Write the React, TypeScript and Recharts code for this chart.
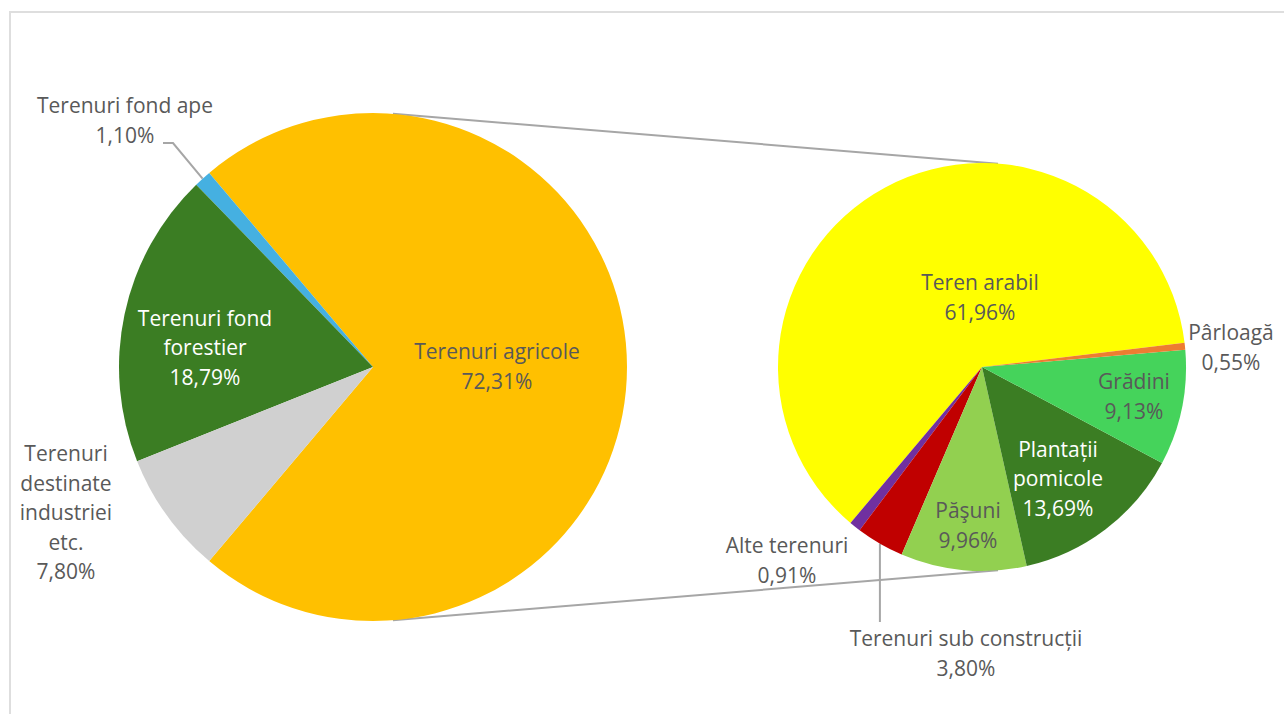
import { PieChart, Pie, Cell } from "recharts";

// main pie (left)
const MAIN_NAMES = ["Terenuri agricole", "Terenuri fond ape", "Terenuri fond forestier", "Terenuri destinate industriei etc."];
const MAIN_VALUES = [72.31, 1.1, 18.79, 7.8];
const MAIN_COLORS = ["#FFC000", "#45B0E1", "#3B7D23", "#D0D0D0"];

// breakdown of "Terenuri agricole" (right)
const SUB_NAMES = ["Teren arabil", "Alte terenuri", "Terenuri sub construcții", "Păşuni", "Plantații pomicole", "Grădini", "Pârloagă"];
const SUB_VALUES = [61.96, 0.91, 3.8, 9.96, 13.69, 9.13, 0.55];
const SUB_COLORS = ["#FFFF00", "#7030A0", "#C00000", "#92D050", "#3B7D23", "#45D35B", "#ED7D31"];

const W = 1284;
const H = 714;
const FONT = "'Open Sans', sans-serif";
const FS = 21;
const LH = 29.5;
const GREY_TXT = "#595959";
const LINE_COL = "#a6a6a6";

const MAIN = { cx: 373, cy: 367, r: 254, start: -130.158 };
const SUB = { cx: 982, cy: 367, r: 204, start: 6.8 };

// label text blocks, offset from pie centre
const LABELS: Record<string, { lines: string[]; dx: number; dy: number; fill: string }> = {
  "Terenuri agricole": { lines: ["Terenuri agricole", "72,31%"], dx: 124, dy: -1, fill: GREY_TXT },
  "Terenuri fond ape": { lines: ["Terenuri fond ape", "1,10%"], dx: -248, dy: -247, fill: GREY_TXT },
  "Terenuri fond forestier": { lines: ["Terenuri fond", "forestier", "18,79%"], dx: -168, dy: -20, fill: "#ffffff" },
  "Terenuri destinate industriei etc.": { lines: ["Terenuri", "destinate", "industriei", "etc.", "7,80%"], dx: -307, dy: 145, fill: GREY_TXT },
  "Teren arabil": { lines: ["Teren arabil", "61,96%"], dx: -2, dy: -70, fill: GREY_TXT },
  "Alte terenuri": { lines: ["Alte terenuri", "0,91%"], dx: -195, dy: 193, fill: GREY_TXT },
  "Terenuri sub construcții": { lines: ["Terenuri sub construcții", "3,80%"], dx: -16, dy: 286, fill: GREY_TXT },
  "Păşuni": { lines: ["Păşuni", "9,96%"], dx: -14, dy: 158, fill: GREY_TXT },
  "Plantații pomicole": { lines: ["Plantații", "pomicole", "13,69%"], dx: 76, dy: 111, fill: "#ffffff" },
  "Grădini": { lines: ["Grădini", "9,13%"], dx: 152, dy: 29, fill: GREY_TXT },
  "Pârloagă": { lines: ["Pârloagă", "0,55%"], dx: 249, dy: -20, fill: GREY_TXT },
};

const mainData = MAIN_NAMES.map((name, i) => ({ name, value: MAIN_VALUES[i] }));
const subData = SUB_NAMES.map((name, i) => ({ name, value: SUB_VALUES[i] }));

const RAD = Math.PI / 180;
const total = (vals: number[]) => vals.reduce((a, b) => a + b, 0);
function midAngle(vals: number[], idx: number, start: number) {
  const t = total(vals);
  let acc = 0;
  for (let i = 0; i < idx; i++) acc += vals[i];
  return start + ((acc + vals[idx] / 2) / t) * 360;
}
function polar(cx: number, cy: number, r: number, deg: number) {
  return { x: cx + r * Math.cos(deg * RAD), y: cy - r * Math.sin(deg * RAD) };
}

function makeLabel(center: { cx: number; cy: number }) {
  return (props: any) => {
    const cfg = LABELS[props.name];
    if (!cfg) return null;
    const x = center.cx + cfg.dx;
    const y0 = center.cy + cfg.dy - ((cfg.lines.length - 1) * LH) / 2;
    return (
      <text x={x} y={y0} textAnchor="middle" fill={cfg.fill} fontFamily={FONT} fontSize={FS}>
        {cfg.lines.map((l, i) => (
          <tspan key={i} x={x} y={y0 + i * LH} dominantBaseline="central">
            {l}
          </tspan>
        ))}
      </text>
    );
  };
}

export default function App() {
  // connectors between the pies
  const CONN_ANGLE = 85.5;
  const a1 = polar(MAIN.cx, MAIN.cy, MAIN.r, CONN_ANGLE);
  const a2 = polar(SUB.cx, SUB.cy, SUB.r, CONN_ANGLE);
  const b1 = polar(MAIN.cx, MAIN.cy, MAIN.r, -CONN_ANGLE);
  const b2 = polar(SUB.cx, SUB.cy, SUB.r, -CONN_ANGLE);

  // leader lines
  const apeEdge = polar(MAIN.cx, MAIN.cy, MAIN.r, midAngle(MAIN_VALUES, 1, MAIN.start));
  const subEdge = polar(SUB.cx, SUB.cy, SUB.r, midAngle(SUB_VALUES, 2, SUB.start));

  return (
    <div style={{ position: "fixed", left: 0, top: 0, width: W, height: H, background: "#fff", overflow: "hidden" }}>
      <div
        style={{
          position: "absolute",
          left: 9,
          top: 11,
          width: W + 100,
          height: H + 100,
          border: "2px solid #dedede",
        }}
      />
      <svg width={W} height={H} style={{ position: "absolute", left: 0, top: 0 }}>
        <line x1={a1.x} y1={a1.y} x2={a2.x} y2={a2.y} stroke={LINE_COL} strokeWidth={2} />
        <line x1={b1.x} y1={b1.y} x2={b2.x} y2={b2.y} stroke={LINE_COL} strokeWidth={2} />
        <polyline
          points={`${MAIN.cx - 210},${MAIN.cy - 224} ${MAIN.cx - 200},${MAIN.cy - 224} ${apeEdge.x},${apeEdge.y}`}
          fill="none"
          stroke={LINE_COL}
          strokeWidth={2}
        />
        <line x1={subEdge.x} y1={subEdge.y} x2={subEdge.x} y2={SUB.cy + 255} stroke={LINE_COL} strokeWidth={2} />
      </svg>
      <div style={{ position: "absolute", left: 0, top: 0 }}>
        <PieChart width={W} height={H} margin={{ top: 0, right: 0, bottom: 0, left: 0 }}>
          <Pie
            data={mainData}
            dataKey="value"
            nameKey="name"
            cx={MAIN.cx}
            cy={MAIN.cy}
            outerRadius={MAIN.r}
            startAngle={MAIN.start}
            endAngle={MAIN.start + 360}
            stroke="none"
            label={makeLabel(MAIN)}
            labelLine={false}
            isAnimationActive={false}
          >
            {mainData.map((d, i) => (
              <Cell key={d.name} fill={MAIN_COLORS[i]} />
            ))}
          </Pie>
          <Pie
            data={subData}
            dataKey="value"
            nameKey="name"
            cx={SUB.cx}
            cy={SUB.cy}
            outerRadius={SUB.r}
            startAngle={SUB.start}
            endAngle={SUB.start + 360}
            stroke="none"
            label={makeLabel(SUB)}
            labelLine={false}
            isAnimationActive={false}
          >
            {subData.map((d, i) => (
              <Cell key={d.name} fill={SUB_COLORS[i]} />
            ))}
          </Pie>
        </PieChart>
      </div>
    </div>
  );
}
